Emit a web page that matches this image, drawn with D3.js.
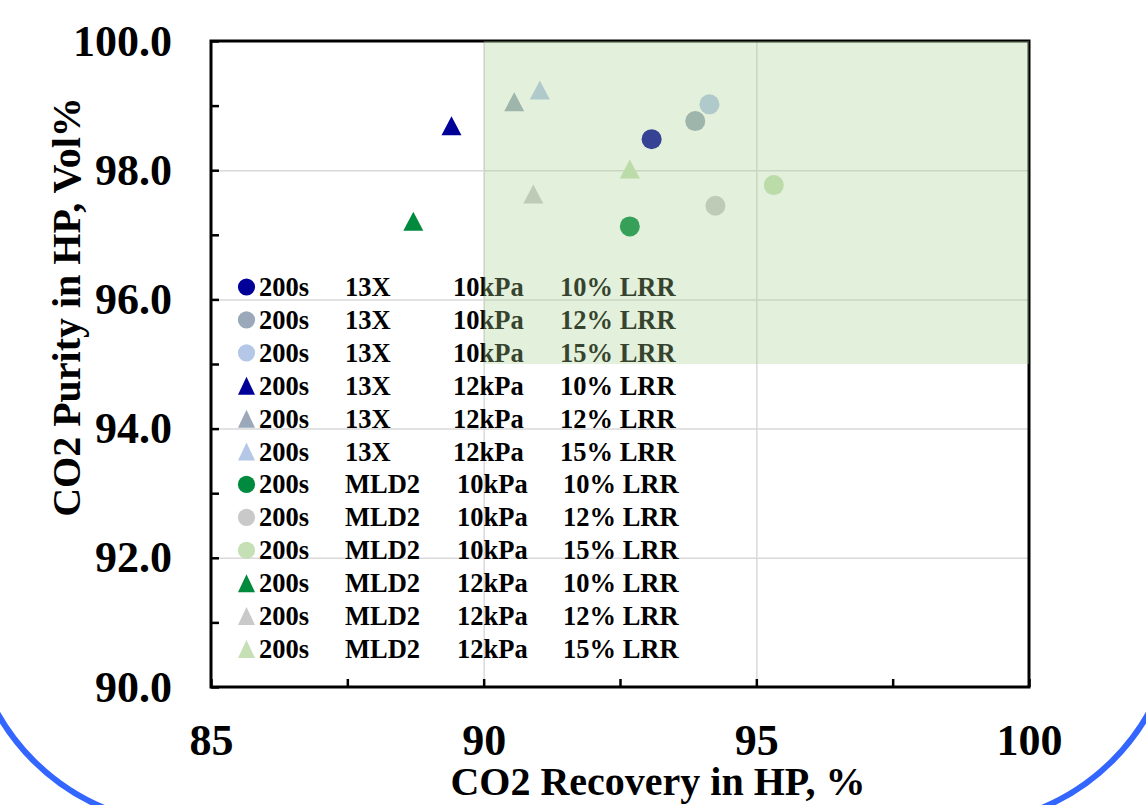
<!DOCTYPE html>
<html lang="en">
<head>
<meta charset="utf-8">
<script src="https://d3js.org/d3.v7.min.js"></script>
<style>
  body { margin: 0; background: #fff; }
  svg text { font-family: "Liberation Serif", "Times New Roman", serif; font-weight: bold; }
</style>
</head>
<body>
<script>
// series, one entry per legend row
var cycle = ["200s","200s","200s","200s","200s","200s","200s","200s","200s","200s","200s","200s"];
var sorbent = ["13X","13X","13X","13X","13X","13X","MLD2","MLD2","MLD2","MLD2","MLD2","MLD2"];
var pressure = ["10kPa","10kPa","10kPa","12kPa","12kPa","12kPa","10kPa","10kPa","10kPa","12kPa","12kPa","12kPa"];
var lrr = ["10% LRR","12% LRR","15% LRR","10% LRR","12% LRR","15% LRR","10% LRR","12% LRR","15% LRR","10% LRR","12% LRR","15% LRR"];
var recovery = [93.08, 93.88, 94.14, 89.41, 90.56, 91.03, 92.68, 94.25, 95.32, 88.71, 90.91, 92.68];
var purity   = [98.48, 98.76, 99.02, 98.69, 99.06, 99.24, 97.13, 97.45, 97.77, 97.21, 97.63, 98.02];
var shape = ["circle","circle","circle","triangle","triangle","triangle","circle","circle","circle","triangle","triangle","triangle"];
var colors = ["#000099","#9AA8BA","#B4C7E7","#000099","#9AA8BA","#B4C7E7","#008A3E","#C9C9C9","#C5E0B4","#008A3E","#C9C9C9","#C5E0B4"];

var xTicks = [85, 90, 95, 100];
var yTicks = [90, 92, 94, 96, 98, 100];
var target = {x0: 90, x1: 100, y0: 95, y1: 100};

var width = 1146, height = 805;
var plotL = 211, plotR = 1029, plotT = 41, plotB = 687;

var svg = d3.select("body").append("svg")
    .attr("width", width)
    .attr("height", height);

// decorative slide border
svg.append("rect")
    .attr("x", -31).attr("y", -400)
    .attr("width", 1208).attr("height", 1225)
    .attr("rx", 220).attr("ry", 220)
    .attr("fill", "none")
    .attr("stroke", "#3366FF")
    .attr("stroke-width", 6);

var x = d3.scaleLinear().domain([85, 100]).range([plotL, plotR]);
var y = d3.scaleLinear().domain([90, 100]).range([plotB, plotT]);

// gridlines
svg.append("g")
    .attr("transform", "translate(0," + plotB + ")")
    .call(d3.axisBottom(x).tickValues([90, 95]).tickSize(-(plotB - plotT)).tickFormat(""))
    .call(function (g) {
        g.select(".domain").remove();
        g.selectAll("line").attr("stroke", "#D9D9D9").attr("stroke-width", 1.5);
    });
svg.append("g")
    .attr("transform", "translate(" + plotL + ",0)")
    .call(d3.axisLeft(y).tickValues([92, 94, 96, 98]).tickSize(-(plotR - plotL)).tickFormat(""))
    .call(function (g) {
        g.select(".domain").remove();
        g.selectAll("line").attr("stroke", "#D9D9D9").attr("stroke-width", 1.5);
    });

// triangle marker, centred on its bounding box
function tri(w, h) {
    return {
        draw: function (ctx) {
            ctx.moveTo(0, -h / 2);
            ctx.lineTo(w / 2, h / 2);
            ctx.lineTo(-w / 2, h / 2);
            ctx.closePath();
        }
    };
}
function marker(kind, big) {
    if (kind === "circle") {
        var r = big ? 10 : 8.6;
        return d3.symbol().type(d3.symbolCircle).size(Math.PI * r * r)();
    }
    return big ? d3.symbol().type(tri(20, 19))() : d3.symbol().type(tri(17, 18))();
}

var idx = d3.range(recovery.length);

// points
svg.append("g").selectAll("path")
    .data(idx)
    .enter().append("path")
    .attr("transform", function (i) { return "translate(" + x(recovery[i]) + "," + y(purity[i]) + ")"; })
    .attr("d", function (i) { return marker(shape[i], true); })
    .attr("fill", function (i) { return colors[i]; });

// legend
var legY = d3.scaleLinear().domain([0, 11]).range([287, 649]);
var leg = svg.append("g").selectAll("g")
    .data(idx)
    .enter().append("g")
    .attr("transform", function (i) { return "translate(0," + legY(i) + ")"; });

leg.append("path")
    .attr("transform", "translate(246.5,0)")
    .attr("d", function (i) { return marker(shape[i], false); })
    .attr("fill", function (i) { return colors[i]; });

function col(arr, xa, xb) {
    leg.append("text")
        .attr("x", function (i) { return sorbent[i] === "13X" ? xa : xb; })
        .attr("y", 9)
        .attr("font-size", 26.5)
        .attr("fill", "#000")
        .text(function (i) { return arr[i]; });
}
col(cycle, 259, 259);
col(sorbent, 345, 345);
col(pressure, 453, 457);
col(lrr, 560, 563);

// frame and inner ticks
svg.append("rect")
    .attr("x", plotL).attr("y", plotT)
    .attr("width", plotR - plotL).attr("height", plotB - plotT)
    .attr("fill", "none")
    .attr("stroke", "#000")
    .attr("stroke-width", 3);

svg.append("g")
    .attr("transform", "translate(0," + plotB + ")")
    .call(d3.axisBottom(x).tickValues(d3.range(85, 100.1, 2.5)).tickSize(-8).tickFormat(""))
    .call(function (g) {
        g.select(".domain").remove();
        g.selectAll("line").attr("stroke", "#000").attr("stroke-width", 2.5);
    });
svg.append("g")
    .attr("transform", "translate(" + plotL + ",0)")
    .call(d3.axisLeft(y).tickValues(d3.range(90, 100.1, 1)).tickSize(-8).tickFormat(""))
    .call(function (g) {
        g.select(".domain").remove();
        g.selectAll("line").attr("stroke", "#000").attr("stroke-width", 2.5);
    });

// target region overlay (sits on top of points and legend)
svg.append("rect")
    .attr("x", x(target.x0))
    .attr("y", y(target.y1))
    .attr("width", x(target.x1) - x(target.x0))
    .attr("height", y(target.y0) - y(target.y1))
    .attr("fill", "#A9D18E")
    .attr("fill-opacity", 0.32);

// tick labels
svg.append("g")
    .attr("transform", "translate(0," + plotB + ")")
    .call(d3.axisBottom(x).tickValues(xTicks).tickSize(0).tickPadding(37).tickFormat(d3.format("d")))
    .call(function (g) {
        g.select(".domain").remove();
        g.selectAll("text").attr("font-size", 44).attr("font-family", null).attr("fill", "#000");
    });
svg.append("g")
    .attr("transform", "translate(" + plotL + ",0)")
    .call(d3.axisLeft(y).tickValues(yTicks).tickSize(0).tickPadding(39).tickFormat(d3.format(".1f")))
    .call(function (g) {
        g.select(".domain").remove();
        g.selectAll("text").attr("font-size", 44).attr("font-family", null).attr("fill", "#000");
    });

// axis titles
svg.append("text")
    .attr("x", 658).attr("y", 795)
    .attr("text-anchor", "middle")
    .attr("font-size", 40)
    .text("CO2 Recovery in HP, %");

svg.append("text")
    .attr("transform", "translate(80,307) rotate(-90)")
    .attr("text-anchor", "middle")
    .attr("font-size", 40)
    .text("CO2 Purity in HP, Vol%");
</script>
</body>
</html>
